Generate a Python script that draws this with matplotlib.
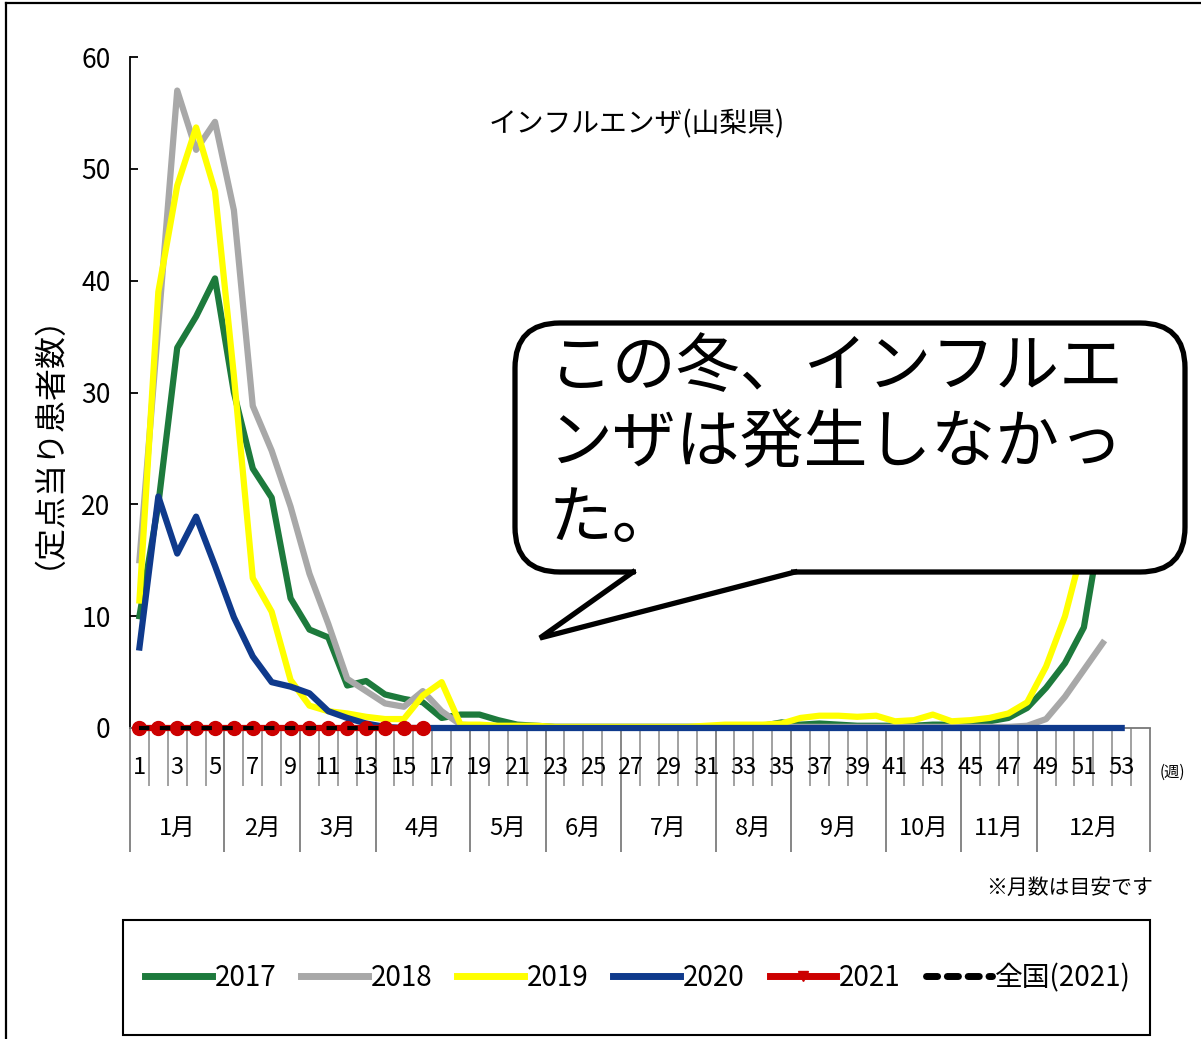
import matplotlib
matplotlib.use('Agg')
import matplotlib.pyplot as plt
import matplotlib.transforms as mtransforms
from matplotlib.lines import Line2D
from matplotlib.patches import FancyBboxPatch, Polygon, Rectangle

# ---------------- data ----------------
weeks_52 = list(range(1, 53))
weeks_53 = list(range(1, 54))

v2017 = [10, 20, 34, 36.8, 40.2, 30, 23.2, 20.6, 11.6, 8.8, 8.1, 3.8, 4.2, 3.0, 2.6, 2.3, 0.9, 1.2,
         1.2, 0.7, 0.3, 0.2, 0.1, 0.1, 0.1, 0.1, 0.1, 0.1, 0.1, 0.1, 0.1, 0.1, 0.1, 0.2, 0.5, 0.3,
         0.4, 0.3, 0.2, 0.2, 0.2, 0.2, 0.3, 0.3, 0.4, 0.6, 0.9, 1.8, 3.6, 5.8, 9.0, 19.0]
v2018 = [15, 36, 57, 51.7, 54.2, 46.3, 28.8, 24.8, 19.8, 13.8, 9.3, 4.4, 3.3, 2.2, 1.9, 3.3, 1.5, 0.3,
         0.2, 0.1, 0.1, 0.1, 0.1, 0.1, 0.1, 0.1, 0.1, 0.1, 0.1, 0.1, 0.1, 0.1, 0.1, 0.1, 0.1, 0.1,
         0.1, 0.1, 0.1, 0.1, 0.1, 0.1, 0.1, 0.1, 0.1, 0.1, 0.1, 0.2, 0.8, 2.8, 5.2, 7.6]
v2019 = [11.4, 39, 48.5, 53.7, 48, 31.5, 13.4, 10.4, 4.3, 2.0, 1.5, 1.3, 1.0, 0.8, 0.8, 2.9, 4.1, 0.3,
         0.3, 0.2, 0.2, 0.2, 0.1, 0.1, 0.1, 0.1, 0.1, 0.1, 0.1, 0.1, 0.2, 0.3, 0.3, 0.3, 0.4, 0.9,
         1.1, 1.1, 1.0, 1.1, 0.6, 0.7, 1.2, 0.6, 0.7, 0.9, 1.3, 2.3, 5.5, 10.0, 16.5, 26.0]
v2020 = [7.2, 20.7, 15.6, 18.9, 14.5, 9.9, 6.4, 4.1, 3.7, 3.1, 1.5, 0.9, 0.4, 0.1] + [0] * 39
weeks_2021 = list(range(1, 17))
v2021 = [0] * 16
weeks_nat = list(range(1, 15))
v_nat = [0] * 14

series_labels = ['2017', '2018', '2019', '2020', '2021', '全国(2021)']
y_ticks = [0, 10, 20, 30, 40, 50, 60]
week_labels = list(range(1, 54, 2))
month_names = ['1月', '2月', '3月', '4月', '5月', '6月', '7月', '8月', '9月', '10月', '11月', '12月']
month_edges = [0.5, 5.5, 9.5, 13.5, 18.5, 22.5, 26.5, 31.5, 35.5, 40.5, 44.5, 48.5, 54.5]
week_edges = [i + 0.5 for i in range(0, 55)]

title = 'インフルエンザ(山梨県)'
ylabel = '（定点当り患者数）'
bubble_lines = ['この冬、インフルエ', 'ンザは発生しなかっ', 'た。']

# ---------------- style ----------------
C2017 = '#1d7a3c'
C2018 = '#a8a8a8'
C2019 = '#ffff00'
C2020 = '#0f3a8c'
C2021 = '#cc0000'

NARROW = ['Liberation Sans Narrow', 'Noto Sans CJK JP', 'DejaVu Sans']
CJK = ['Noto Sans CJK JP', 'DejaVu Sans']

W, H = 1201, 1039
fig = plt.figure(figsize=(W / 100, H / 100), dpi=100)
fig.patch.set_facecolor('white')

ax = fig.add_axes([130 / W, 1 - 728 / H, 1020 / W, (728 - 57) / H])
LW = 4.5
ax.plot(weeks_52, v2017, color=C2017, lw=LW, solid_joinstyle='round', clip_on=False, zorder=2)
ax.plot(weeks_52, v2018, color=C2018, lw=LW, solid_joinstyle='round', clip_on=False, zorder=3)
ax.plot(weeks_52, v2019, color=C2019, lw=LW, solid_joinstyle='round', clip_on=False, zorder=4)
ax.plot(weeks_53, v2020, color=C2020, lw=LW, solid_joinstyle='round', clip_on=False, zorder=5)
ax.plot(weeks_2021, v2021, color=C2021, lw=LW, marker='o', ms=10, clip_on=False, zorder=6)
ax.plot(weeks_nat, v_nat, color='black', lw=3, ls=(0, (2.5, 2.5)), clip_on=False, zorder=7)

ax.set_xlim(0.5, 54.5)
ax.set_ylim(0, 60)
for s in ['top', 'right']:
    ax.spines[s].set_visible(False)
ax.spines['left'].set_color('black')
ax.spines['left'].set_linewidth(1.3)
ax.spines['bottom'].set_color('#777777')
ax.spines['bottom'].set_linewidth(1.3)

ax.set_yticks(y_ticks)
ax.set_yticklabels([str(v) for v in y_ticks])
ax.tick_params(axis='y', direction='in', length=6, width=1.3, pad=14, labelsize=19)
for lb in ax.get_yticklabels():
    lb.set_fontfamily(NARROW)

ax.set_xticks(month_edges)
ax.set_xticks(week_edges, minor=True)
ax.tick_params(axis='x', which='major', length=89, width=1.1, color='#666666', labelbottom=False)
ax.tick_params(axis='x', which='minor', length=42, width=1.1, color='#888888', labelbottom=False)

blend = mtransforms.blended_transform_factory(ax.transData, fig.transFigure)
for w in week_labels:
    ax.text(w, 1 - 768 / H, str(w), transform=blend, ha='center', va='center',
            fontsize=17, fontfamily=NARROW)
for name, a, b in zip(month_names, month_edges[:-1], month_edges[1:]):
    ax.text((a + b) / 2, 1 - 828 / H, name, transform=blend, ha='center', va='center',
            fontsize=17, fontfamily=NARROW)

fig.text(1172 / W, 1 - 772 / H, '(週)', ha='center', va='center', fontsize=11, fontfamily=CJK)
fig.text(1070 / W, 1 - 888 / H, '※月数は目安です', ha='center', va='center', fontsize=15, fontfamily=CJK)
fig.text(637 / W, 1 - 124 / H, title, ha='center', va='center', fontsize=20, fontfamily=CJK)
fig.text(32 / W, 1 - 425 / H, ylabel, ha='center', va='center', rotation=90, fontsize=23, fontfamily=CJK)

# ---------------- overlay (bubble, legend box, frame) ----------------
ov = fig.add_axes([0, 0, 1, 1], zorder=10)
ov.set_xlim(0, W)
ov.set_ylim(H, 0)
ov.axis('off')
ov.patch.set_alpha(0)

ov.plot([6, W], [3, 3], color='black', lw=1.6)
ov.plot([6, 6], [3, H], color='black', lw=1.6)

bubble = FancyBboxPatch((515, 323), 670, 249, boxstyle='round,pad=0,rounding_size=45',
                        fc='white', ec='black', lw=3.8)
ov.add_patch(bubble)
ov.add_patch(Polygon([(636, 560), (636, 574), (540, 638), (791, 574), (791, 560)],
                     closed=True, fc='white', ec='none'))
ov.plot([633, 540, 795], [572, 638, 572], color='black', lw=3.8, solid_joinstyle='miter')
for i, line in enumerate(bubble_lines):
    ov.text(549, 368 + 76 * i, line, ha='left', va='center', fontsize=46, fontfamily=CJK)

ov.add_patch(Rectangle((123, 920), 1027, 115, fill=False, ec='black', lw=1.5))

handles = [
    Line2D([], [], color=C2017, lw=5),
    Line2D([], [], color=C2018, lw=5),
    Line2D([], [], color=C2019, lw=5),
    Line2D([], [], color=C2020, lw=5),
    Line2D([], [], color=C2021, lw=5, marker='v', ms=7),
    Line2D([], [], color='black', lw=5, ls=(0, (1.6, 1.4)), dash_capstyle='round'),
]
fig.legend(handles, series_labels, loc='center', bbox_to_anchor=(638 / W, 1 - 978 / H),
           ncol=6, frameon=False, prop={'family': NARROW, 'size': 20},
           handlelength=2.4, handletextpad=0.1, columnspacing=0.9)

fig.savefig('out.png', dpi=100)
